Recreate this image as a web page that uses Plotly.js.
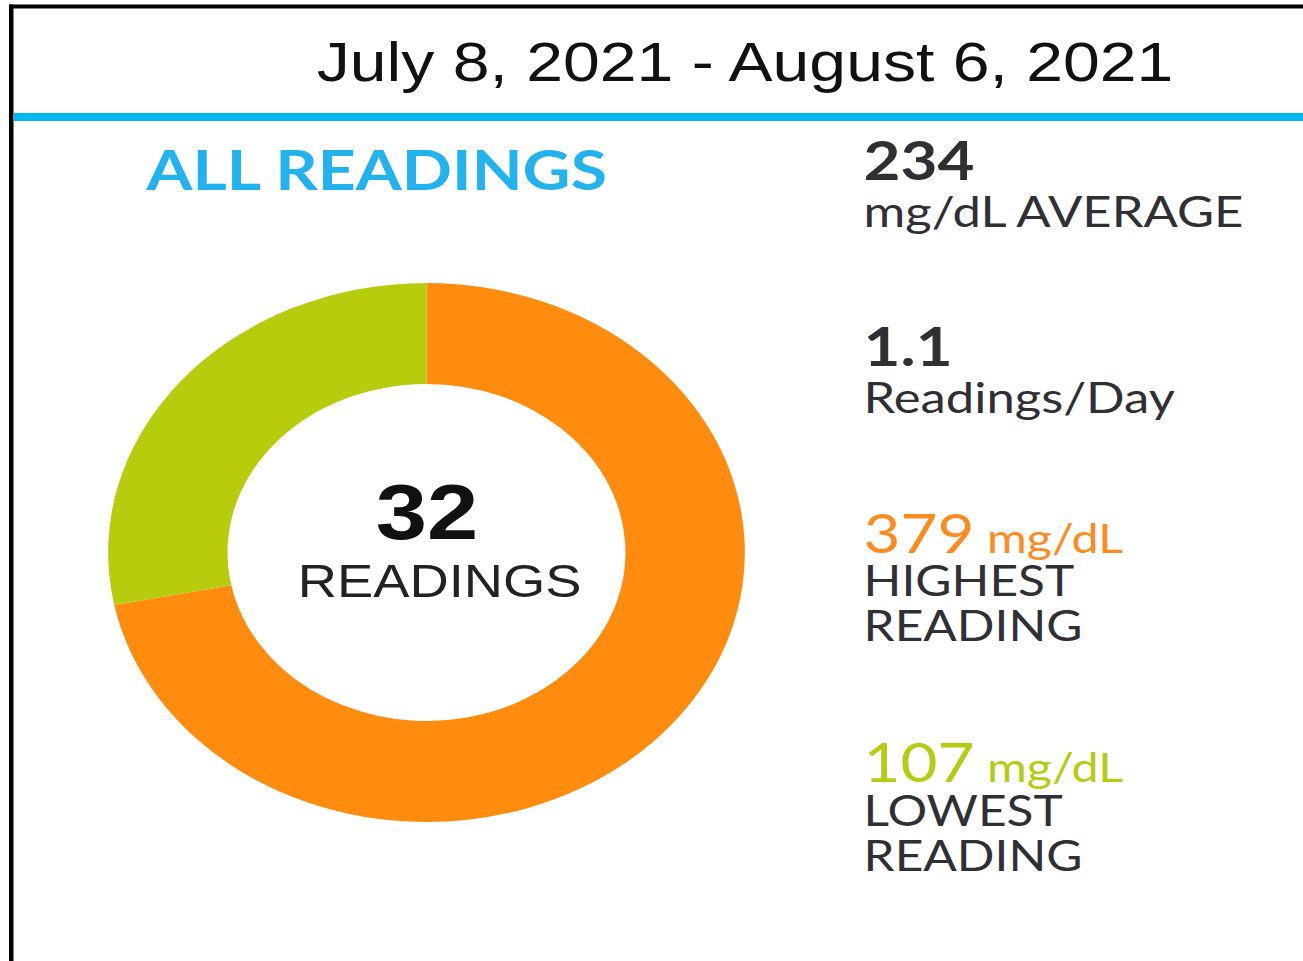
<!DOCTYPE html>
<html>
<head>
<meta charset="utf-8">
<script src="https://cdn.plot.ly/plotly-3.0.1.min.js"></script>
<style>
  html, body { margin: 0; padding: 0; background: #ffffff; overflow: hidden; width: 1303px; height: 961px; }
  #wrap { width: 1303px; height: 961px; overflow: hidden; position: relative; }
  #chart { width: 1103px; height: 961px; transform: scaleX(1.18133); transform-origin: 0 0; }
</style>
</head>
<body>
<div id="wrap"><div id="chart"></div></div>
<script>
// ---- data ----
const dateRange = 'July 8, 2021 - August 6, 2021';
const chartTitle = 'ALL READINGS';
const categories = ['High', 'In Range'];
const readingCounts = [23, 9];
const sliceColors = ['#FF8B0F', '#B7CC0D'];
const totalReadings = 32;
const averageValue = '234';
const averageLabel = 'mg/dL AVERAGE';
const perDayValue = '1.1';
const perDayLabel = 'Readings/Day';
const highestValue = '379';
const highestLabel = ['HIGHEST', 'READING'];
const lowestValue = '107';
const lowestLabel = ['LOWEST', 'READING'];
const unit = 'mg/dL';

// ---- helpers: reference pixel -> paper coords ----
const W = 1303, H = 961;
const px = x => x / W;
const py = y => 1 - y / H;

const trace = {
  type: 'pie',
  labels: categories,
  values: readingCounts,
  marker: { colors: sliceColors, line: { width: 0 } },
  hole: 0.625,
  sort: false,
  direction: 'counterclockwise',
  rotation: 0,
  textinfo: 'none',
  hoverinfo: 'none',
  showlegend: false,
  domain: { x: [px(108), px(745)], y: [py(822), py(283)] }
};

const dark = '#2f2f35';
const LATO = 'Lato, "Open Sans", sans-serif';
const ARIAL = '"Liberation Sans", Arial, sans-serif';

function ann(text, x, y, size, color, family, xanchor, weight) {
  return {
    text: text, x: px(x), y: py(y), xref: 'paper', yref: 'paper',
    xanchor: xanchor || 'left', yanchor: 'middle', showarrow: false,
    font: { size: size, color: color, family: family, weight: weight || 'normal' },
    borderpad: 0
  };
}

const statX = 862;
const annotations = [
  ann(dateRange, 745, 61, 56, '#111111', ARIAL, 'center'),
  ann(chartTitle, 144, 168, 56, '#22B2EE', LATO, 'left', 'bold'),
  ann(String(totalReadings), 427, 512, 78, '#111111', ARIAL, 'center', 'bold'),
  ann('READINGS', 440, 581, 46, '#222222', ARIAL, 'center'),
  ann(averageValue, statX, 160, 54, dark, LATO, 'left', 'bold'),
  ann(averageLabel, statX, 210, 43, dark, LATO, 'left'),
  ann(perDayValue, statX, 345, 54, dark, LATO, 'left', 'bold'),
  ann(perDayLabel, statX, 396, 43, dark, LATO, 'left'),
  ann(highestValue + '<span style="font-size:41px"> ' + unit + '</span>', statX, 532, 54, '#FF8B1F', LATO, 'left'),
  ann(highestLabel[0], statX, 580, 42, dark, LATO, 'left'),
  ann(highestLabel[1], statX, 625, 42, dark, LATO, 'left'),
  ann(lowestValue + '<span style="font-size:41px"> ' + unit + '</span>', statX, 761, 54, '#B5CC12', LATO, 'left'),
  ann(lowestLabel[0], statX, 810, 42, dark, LATO, 'left'),
  ann(lowestLabel[1], statX, 855, 42, dark, LATO, 'left')
];

const shapes = [
  { type: 'rect', xref: 'paper', yref: 'paper', x0: px(9), x1: 1, y0: py(8.5), y1: py(4.5), fillcolor: '#000000', line: { width: 0 } },
  { type: 'rect', xref: 'paper', yref: 'paper', x0: px(9), x1: px(13.5), y0: 0, y1: py(4.5), fillcolor: '#000000', line: { width: 0 } },
  { type: 'rect', xref: 'paper', yref: 'paper', x0: px(13.5), x1: 1, y0: py(121), y1: py(113), fillcolor: '#03B5F1', line: { width: 0 } }
];

const layout = {
  width: 1103, height: 961,
  margin: { l: 0, r: 0, t: 0, b: 0, pad: 0 },
  paper_bgcolor: '#ffffff', plot_bgcolor: '#ffffff',
  showlegend: false,
  annotations: annotations,
  shapes: shapes
};

Plotly.newPlot('chart', [trace], layout, { displayModeBar: false, staticPlot: true });
</script>
</body>
</html>
